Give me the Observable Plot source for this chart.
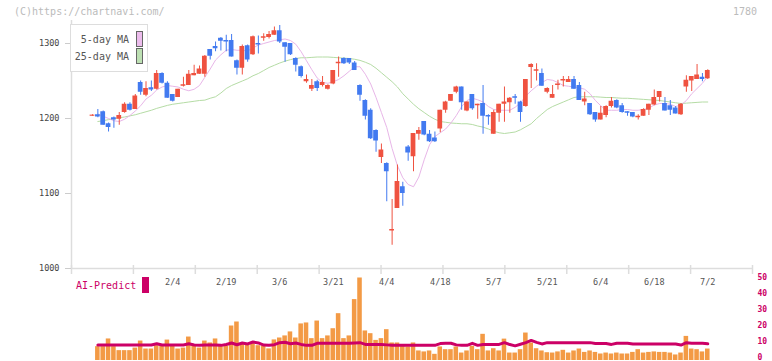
<!DOCTYPE html>
<html><head><meta charset="utf-8">
<script src="https://cdn.jsdelivr.net/npm/d3@7"></script>
<script src="https://cdn.jsdelivr.net/npm/@observablehq/plot@0.6"></script>
<style>
body{margin:0;background:#fff;font-family:"DejaVu Sans Mono",monospace;}
#wrap{position:relative;width:772px;height:361px;overflow:hidden;background:#fff;}
#wrap svg{position:absolute;left:0;top:0;}
.t{position:absolute;white-space:nowrap;line-height:1;font-size:10px;}
.sw{position:absolute;box-sizing:border-box;}
</style></head><body>
<div id="wrap">
  <div class="t" style="left:14px;top:7px;color:#bbb;">(C)https://chartnavi.com/</div>
  <div class="t" style="right:15px;top:7px;color:#bbb;">1780</div>
</div>
<script>
// ---- data ----
const open = [1203,1205,1209,1193,1201,1199,1208,1219,1212,1248,
1231,1241,1239,1260,1247,1232,1228,1243,1244,1257,
1259,1259,1292,1296,1307,1304,1304,1277,1267,1297,
1285,1300,1307,1308,1311,1317,1301,1300,1280,1269,
1249,1239,1249,1244,1239,1246,1273,1280,1280,1274,
1244,1224,1211,1184,1148,1140,1050,1080,1109,1162,
1149,1179,1196,1179,1174,1186,1211,1223,1235,1242,
1210,1232,1217,1220,1204,1179,1207,1219,1221,1229,
1222,1216,1268,1263,1260,1235,1227,1244,1250,1248,
1252,1244,1222,1220,1208,1198,1204,1216,1224,1217,
1209,1208,1201,1203,1211,1218,1228,1220,1217,1214,
1205,1242,1250,1252,1255,1253];
const high = [1205,1212,1210,1194,1202,1208,1221,1221,1232,1250,
1249,1250,1264,1261,1249,1232,1239,1255,1264,1271,
1270,1284,1292,1302,1308,1311,1312,1278,1298,1298,
1310,1310,1313,1316,1322,1324,1301,1300,1281,1270,
1258,1252,1251,1256,1245,1264,1282,1281,1280,1276,
1245,1225,1213,1185,1166,1141,1092,1138,1115,1164,
1180,1188,1196,1184,1182,1211,1223,1232,1243,1242,
1222,1232,1219,1244,1205,1211,1219,1242,1228,1232,
1223,1252,1273,1273,1266,1241,1244,1251,1256,1256,
1256,1248,1235,1220,1208,1216,1217,1228,1225,1220,
1209,1208,1205,1213,1219,1238,1236,1228,1224,1216,
1220,1257,1256,1272,1260,1265];
const low = [1203,1201,1191,1182,1187,1191,1207,1210,1212,1231,
1229,1236,1238,1246,1227,1222,1228,1242,1244,1257,
1259,1255,1278,1289,1290,1289,1282,1258,1258,1275,
1284,1286,1303,1306,1311,1300,1275,1284,1262,1254,
1247,1236,1236,1242,1238,1245,1255,1272,1272,1264,
1223,1198,1172,1155,1140,1089,1031,1080,1083,1143,
1129,1171,1177,1168,1168,1181,1207,1223,1233,1211,
1209,1211,1199,1179,1191,1179,1195,1195,1207,1219,
1195,1215,1240,1250,1243,1233,1227,1238,1242,1248,
1239,1224,1217,1204,1195,1198,1201,1214,1213,1207,
1203,1201,1198,1203,1204,1217,1222,1210,1204,1206,
1204,1235,1236,1252,1249,1252];
const close = [1204.5,1202,1191,1188,1198,1204,1219,1211,1230,1235,
1240,1238,1260,1247,1227,1223,1239,1245,1259,1260,
1266,1283,1283,1293,1303,1302,1282,1267,1296,1278,
1309,1298,1309,1312,1317,1302,1295,1285,1271,1256,
1252,1244,1240,1248,1244,1264,1275,1273,1274,1264,
1231,1203,1173,1170,1158,1129,1052,1116,1100,1154,
1180,1184,1178,1169,1169,1211,1222,1232,1242,1221,
1222,1213,1219,1203,1202,1208,1219,1222,1227,1227,
1208,1252,1272,1265,1243,1240,1232,1246,1252,1252,
1239,1224,1226,1205,1198,1207,1216,1223,1214,1208,
1207,1202,1203,1212,1219,1228,1236,1210,1211,1206,
1219,1251,1256,1258,1252,1264];
const ma5 = [null,1206,1203,1200,1197,1196,1199,1204,1210,1217,
1226,1231,1238,1242,1244,1243,1242,1239,1237,1239,
1244,1255,1266,1278,1285,1291,1292,1291,1291,1290,
1294,1298,1300,1302,1304,1305,1306,1304,1299,1289,
1277,1265,1254,1248,1247,1249,1252,1257,1263,1269,
1269,1259,1246,1228,1208,1188,1160,1137,1121,1112,
1109,1122,1145,1165,1176,1181,1186,1194,1204,1216,
1224,1227,1225,1222,1216,1212,1211,1211,1211,1215,
1221,1230,1237,1243,1248,1252,1251,1248,1244,1243,
1242,1241,1239,1233,1224,1217,1211,1211,1211,1212,
1212,1211,1211,1212,1214,1218,1220,1220,1219,1216,
1218,1224,1233,1240,1247,1256];
const ma25 = [null,1196,1197,1198.5,1200,1201,1202,1203.5,1205,1207,
1209,1211,1213.5,1215.5,1217.5,1219,1220,1221,1222,1223,
1224,1224.5,1227,1229,1234,1240,1244,1247,1250,1253,
1257,1260,1264,1268,1271,1274,1276.5,1278.5,1280,1281,
1281,1281.5,1282,1282,1282,1281.5,1281,1280.5,1280,1279,
1277.5,1275,1272,1267,1261,1255,1249,1242,1233,1226,
1219,1213,1208,1203,1199,1196,1195,1194,1193.5,1193,
1193,1192,1190,1188.5,1186,1183,1181,1180,1181,1182,
1185,1189,1193,1200,1206,1212,1216,1219,1222,1225,
1228,1229,1229,1229,1229,1228.5,1228,1228,1227.5,1227,
1227,1226.5,1226,1225.5,1225,1224.5,1224,1223,1222,1221,
1220,1220.5,1221,1221.5,1222,1222];
const volume = [null,7.1,7.1,11.9,7.1,4.6,4.6,4.6,6.2,10.6,
5.6,5.6,7.7,7.3,11.2,7.3,5.6,6.2,13.1,7.7,
6.2,10.6,9.4,11.9,7.3,7.3,20,22.5,8.8,8.0,
9.0,7.7,7.5,5.7,11.3,12.5,13.8,16.3,12.5,21.3,
21.9,12.1,23.1,12.1,13.8,18.3,27.7,12.1,13.8,36.5,
50,16.9,15.2,11,12.1,17.7,9.4,9.4,7.6,6.9,
9.4,4.4,3.8,4.4,2.3,6.9,5.2,5.2,6.9,3.1,
4.4,7.3,5.2,14.8,4.4,5.8,4.4,11.8,3.1,3.1,
5.2,15.6,9.4,5.8,4.4,3.3,3.1,3.8,4.8,3.1,
4.4,5.6,3.5,4.4,3.5,2.5,3.1,2.5,3.1,2.5,
2.5,3.5,5.2,3.1,3.5,3.8,3.5,3.5,3.1,1.9,
3.1,13.5,5.6,5.2,3.8,5.6];
const aiPredict = [null,8.1,8.1,8.1,8.1,8.1,8.1,8.1,8.1,8.1,
8.1,8.1,8.9,8.1,8.1,8.1,8.1,8.1,8.9,8.1,
7.9,8.1,8.1,8.1,7.9,8.4,9.4,8.3,9.4,8.8,
10.0,9.4,8.1,7.9,8.3,9.6,9.8,8.9,9.4,8.5,
7.9,7.9,9.2,9.2,9.2,9.2,9.2,9.2,9.2,9.4,
9.6,8.5,8.5,8.5,8.5,8.2,7.9,7.9,7.9,7.9,
7.9,7.9,7.9,7.9,7.9,9.0,9.2,9.2,8.2,7.9,
7.9,9.2,7.9,8.5,8.5,8.5,8.5,9.6,8.4,7.6,
8.6,9.6,11.0,9.8,8.8,9.6,9.6,9.6,9.6,9.6,
9.6,9.6,9.6,9.6,9.0,9.0,9.0,8.5,9.2,9.2,
9.2,8.8,8.8,8.8,8.8,8.8,8.8,8.8,8.8,8.8,
8.1,9.6,9.2,9.2,9.2,8.9];
const dateLabels = ["2/4","2/19","3/6","3/21","4/4","4/18","5/7","5/21","6/4","6/18","7/2"];
const dateIdx = [15,25,35,45,55,65,75,85,95,105,115];
const priceTicks = [1000,1100,1200,1300];
const aiTicks = [0,10,20,30,40,50];

// ---- build ----
const RED = "#ef5240", BLUE = "#427af0";
const N = open.length;
const idx = d3.range(N);
const candles = idx.map(i => ({i, o: open[i], h: high[i], l: low[i], c: close[i]}));
const upC = candles.filter(d => d.c >= d.o);
const dnC = candles.filter(d => d.c < d.o);
const volData = idx.filter(i => volume[i] != null).map(i => ({i, v: volume[i]}));
const aiData = idx.filter(i => aiPredict[i] != null).map(i => ({i, v: aiPredict[i]}));
const xDomain = [-3.925, 123.36];
const priceDomain = [1000, 1330.67];
const gridTicks = d3.range(12).map(k => xDomain[0] + k * (xDomain[1] - xDomain[0]) / 11);
const style = {fontFamily: "DejaVu Sans Mono", fontSize: "8.5px", background: "transparent", overflow: "visible"};

const main = Plot.plot({
  width: 772, height: 361, marginLeft: 71, marginRight: 20, marginTop: 20, marginBottom: 93,
  style,
  x: {domain: xDomain, axis: null},
  y: {domain: priceDomain, axis: null},
  marks: [
    Plot.ruleX([xDomain[0]], {stroke: "#ddd", strokeWidth: 1.5}),
    Plot.ruleY([priceDomain[0]], {stroke: "#ddd", strokeWidth: 1.5}),
    Plot.ruleX(gridTicks, {x: d => d, y1: priceDomain[0], y2: priceDomain[0], insetTop: -3, insetBottom: -6, stroke: "#ddd", strokeWidth: 1.5}),
    Plot.axisY({ticks: priceTicks, label: null, tickSize: 6, tickPadding: 6, stroke: "#ccc", fill: "#444", tickFormat: d => String(d)}),
    Plot.line(idx, {x: i => i, y: i => ma25[i], stroke: "#b5dca5", strokeWidth: 1}),
    Plot.line(idx, {x: i => i, y: i => ma5[i], stroke: "#e8b6e8", strokeWidth: 1}),
    Plot.ruleX(upC, {x: "i", y1: "l", y2: "h", stroke: RED}),
    Plot.ruleX(dnC, {x: "i", y1: "l", y2: "h", stroke: BLUE}),
    Plot.rect(upC, {x1: d => d.i - 0.5, x2: d => d.i + 0.5, insetLeft: 0.3, insetRight: 0.3, y1: "o", y2: "c", fill: RED}),
    Plot.rect(dnC, {x1: d => d.i - 0.5, x2: d => d.i + 0.5, insetLeft: 0.3, insetRight: 0.3, y1: "o", y2: "c", fill: BLUE}),
    Plot.text(dateLabels, {x: (d, k) => dateIdx[k], y: priceDomain[0], dy: 14, text: d => d, fill: "#555"})
  ]
});

const lower = Plot.plot({
  width: 772, height: 361, marginLeft: 71, marginRight: 20, marginTop: 277.5, marginBottom: 3.5,
  style,
  x: {domain: xDomain, axis: null},
  y: {domain: [0, 50], axis: null},
  marks: [
    Plot.rect(volData, {x1: d => d.i - 0.5, x2: d => d.i + 0.5, insetLeft: 0.4, insetRight: 0.4, insetBottom: -2.5, y1: 0, y2: "v", fill: "#f39a45"}),
    Plot.line(aiData, {x: "i", y: "v", stroke: "#cc0066", strokeWidth: 3}),
    Plot.axisY({anchor: "right", label: null, ticks: aiTicks, tickSize: 0, tickPadding: 5, dy: -1, fontSize: "8px", fill: "#cc0066", fontWeight: "bold", tickFormat: d => String(d)})
  ]
});

const wrap = document.getElementById("wrap");
wrap.prepend(lower);
wrap.prepend(main);

// legend & labels (HTML overlays)
function add(html) { wrap.insertAdjacentHTML("beforeend", html); }
add('<div class="sw" style="left:70px;top:24px;width:78px;height:48px;border:1px solid #ddd;background:#fff;"></div>');
add('<div class="t" style="right:643px;top:35px;color:#555;">5-day MA</div>');
add('<div class="t" style="right:643px;top:52px;color:#555;">25-day MA</div>');
add('<div class="sw" style="left:136px;top:31px;width:7px;height:16px;border:1px solid #666;background:#ecbcec;"></div>');
add('<div class="sw" style="left:136px;top:48px;width:7px;height:16px;border:1px solid #666;background:#bde0b3;"></div>');
add('<div class="t" style="left:76px;top:281px;color:#cc0066;">AI-Predict</div>');
add('<div class="sw" style="left:142px;top:277px;width:7px;height:16px;background:#cc0066;"></div>');
</script>
</body></html>
